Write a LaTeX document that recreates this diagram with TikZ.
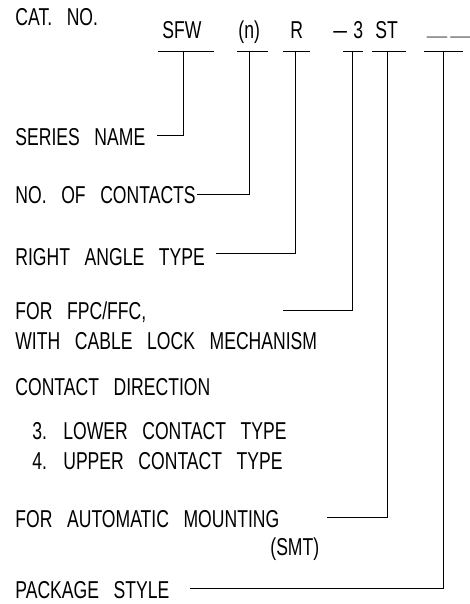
\documentclass[tikz,border=0pt]{standalone}
\usepackage{fontspec}
\setmainfont{Liberation Sans}[FakeStretch=0.72,WordSpace=3]
\usepackage{tikz}

\begin{document}
\begin{tikzpicture}[x=1pt,y=-1pt,line width=0.8pt,
  txt/.style={anchor=base west,inner sep=0pt,font=\fontsize{24.4}{29}\selectfont}]
\useasboundingbox (0,0) rectangle (470,604);

% part number
\node[txt] (cat) at (15,26) {CAT. NO.};
\node[txt] (cS) at (162,39) {SFW};
\node[txt] (cN) at (238,39) {(n)};
\node[txt] (cR) at (290,39) {R};
\node[txt] (cH) at (333,39) {\scalebox{1.4}[1]{--}};
\node[txt] (cD) at (353,39) {3};
\node[txt] (cT) at (375,39) {ST};
\node[txt,text=gray] (cP) at (427,34) {\scalebox{2}[1]{\_}\hspace{4pt}\scalebox{2}[1]{\_}};

% descriptions
\node[txt] (lS) at (15,146) {SERIES NAME};
\node[txt] (lN) at (15,203) {NO. OF CONTACTS};
\node[txt] (lR) at (15,265) {RIGHT ANGLE TYPE};
\node[txt] (lD) at (15,319) {FOR FPC/FFC,};
\node[txt] (lD2) at (15,349) {WITH CABLE LOCK MECHANISM};
\node[txt] (lC) at (15,395) {CONTACT DIRECTION};
\node[txt] (lC3) at (32,439) {3. LOWER CONTACT TYPE};
\node[txt] (lC4) at (32,469) {4. UPPER CONTACT TYPE};
\node[txt] (lT) at (15,527) {FOR AUTOMATIC MOUNTING};
\node[txt] (lT2) at (270,555) {(SMT)};
\node[txt] (lP) at (15,598) {PACKAGE STYLE};

% underlines and leaders
\foreach \n/\l/\r/\m/\y/\s in {S/158/214/183/135/157,N/237/268/249/194/197,
  R/283/310/295/253/216,D/343/363/352/310/283,T/372/406/387/517/327,
  P/424/463/443/588/190} {
  \coordinate (a\n) at (\l,51);
  \coordinate (b\n) at (\r,51);
  \coordinate (u\n) at (\m,51);
  \coordinate (e\n) at (\s,\y);
  \draw (a\n) -- (b\n);
  \draw (u\n) |- (e\n);
}
\end{tikzpicture}
\end{document}
